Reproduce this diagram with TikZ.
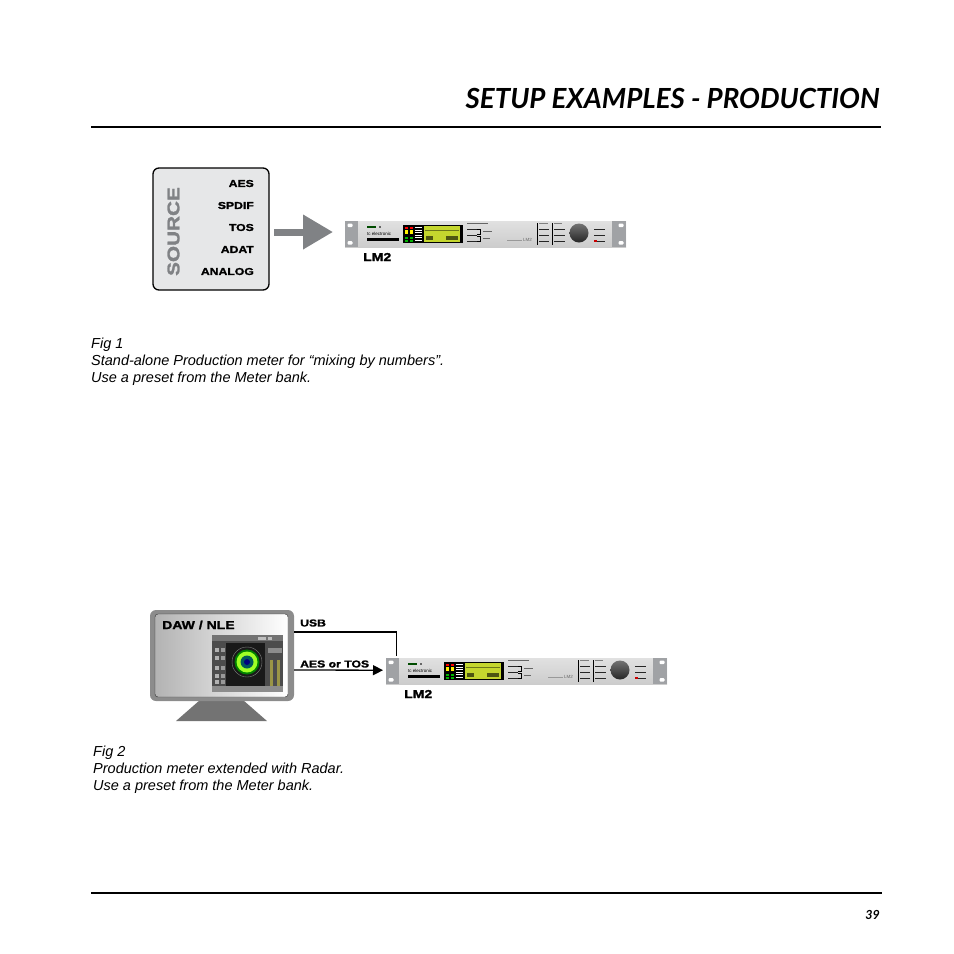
\documentclass[tikz,border=0pt]{standalone}
\usepackage{fontspec}
\usetikzlibrary{arrows.meta, positioning}
\setmainfont{Liberation Sans}
\newfontfamily\headfont{Lato}
\newfontfamily\widefont[BoldFeatures={FakeStretch=1.22,FakeBold=1.5}]{Liberation Sans}
\definecolor{panelgray}{HTML}{E6E7E8}
\definecolor{midgray}{HTML}{808285}
\definecolor{eargray}{HTML}{A0A2A5}
\definecolor{lcdlime}{HTML}{C4D62E}
\def\rackwidth{281pt}
\def\rackheight{26pt}

\begin{document}
\begin{tikzpicture}[x=1pt,y=-1pt]
    \tikzstyle{rulerline}=[draw=black, line width=1.8pt]
    \tikzstyle{pagetitle}=[font=\headfont\bfseries\itshape\fontsize{27.7}{28}\selectfont, anchor=base east, inner sep=0pt]
    \tikzstyle{figcaption}=[font=\itshape\fontsize{14.5}{17.2}\selectfont, anchor=west, inner sep=0pt, align=left]
    \tikzstyle{smalltag}=[font=\widefont\bfseries\fontsize{10}{11}\selectfont, inner sep=0pt]
    \tikzstyle{bigtag}=[font=\widefont\bfseries\fontsize{11.5}{12}\selectfont, inner sep=0pt]
    \tikzstyle{rackbody}=[minimum width=\rackwidth, minimum height=\rackheight, inner sep=0pt, top color=black!12, bottom color=black!20, anchor=north west]
    \tikzstyle{rackear}=[fill=eargray]
    \tikzstyle{keydash}=[black!85, line width=1pt]
    \tikzstyle{wire}=[draw=black, line width=1.3pt]
    \useasboundingbox (0,0) rectangle (954,954);

    \node[pagetitle] (heading) at (880,108) {SETUP EXAMPLES - PRODUCTION};
    \coordinate (topleft) at (91,127);
    \coordinate (topright) at (881,127);
    \draw[rulerline] (topleft) -- (topright);
    \coordinate (botleft) at (91,893);
    \coordinate (botright) at (882,893);
    \draw[rulerline] (botleft) -- (botright);
    \node[font=\headfont\bfseries\itshape\fontsize{12.5}{13}\selectfont, anchor=east, inner sep=0pt] (pagenum) at (880,915) {39};

%   source box
    \node[draw=black, line width=1.3pt, fill=panelgray, rounded corners=6pt, minimum width=116pt, minimum height=122pt, inner sep=0pt] (source) at (211,229) {};
    \node[font=\widefont\bfseries\fontsize{17}{17}\selectfont, text=midgray, rotate=90, inner sep=0pt] (sourcename) at (173.5,231.5) {SOURCE};
    \foreach \y/\t in {183.5/AES,205.5/SPDIF,227.5/TOS,249.5/ADAT,271.5/ANALOG}{
        \node[smalltag, anchor=east] (in-\t) at (254,\y) {\t};
    }

%   the two LM2 units
    \foreach \dx/\dy/\unit in {0/0/lmone,41/437/lmtwo}{
    \begin{scope}[shift={(\dx,\dy)}]
        \node[rackbody] (\unit) at (345,221) {};
        \fill[rackear] (345,221) rectangle (358,247);
        \fill[rackear] (612,221) rectangle (626,247);
        \foreach \ex in {350,621}{
            \fill[white, rounded corners=1pt] (\ex-2.5,223.5) rectangle (\ex+2.5,227);
            \fill[white, rounded corners=1pt] (\ex-2.5,241) rectangle (\ex+2.5,244.5);
        }
        % logo
        \fill[black!70!green] (367,225.5) rectangle (376,227.5);
        \fill[black!60] (379,226) rectangle (381,227.5);
        \node[font=\fontsize{4.5}{5}\selectfont, anchor=west, inner sep=0pt] at (367,234) {tc electronic};
        \fill[black] (367,237.5) rectangle (399,240.5);
        % display
        \fill[black] (403,225) rectangle (463,243);
        \fill[lcdlime] (424,226) rectangle (460,242);
        \foreach \my/\mc in {227/red,229.5/yellow,232/yellow,234.5/black,237/green!70!black,239.5/green!70!black}{
            \fill[\mc] (405,\my) rectangle (408,\my+2);
            \fill[\mc] (409.5,\my) rectangle (412.5,\my+2);
            \fill[white] (414.5,\my) rectangle (422,\my+1);
        }
        \fill[black!45!lcdlime] (425,230) rectangle (459,231.2);
        \fill[black!60!lcdlime] (426,236) rectangle (433,240);
        \fill[black!60!lcdlime] (446,236) rectangle (458,240);
        % key groups
        \draw[black!60, line width=0.6pt] (467,223) -- (488,223);
        \foreach \ky in {229,235,241}{
            \draw[keydash] (467,\ky) -- (477,\ky);
            \draw[keydash] (539,\ky) -- (549,\ky);
            \draw[keydash] (554,\ky) -- (565,\ky);
            \draw[keydash] (594,\ky) -- (605,\ky);
        }
        \draw[black, line width=0.5pt] (477,229) -- (480,229) -- (480,234.5) -- (477,234.5);
        \draw[black, line width=0.5pt] (477,236) -- (480,236) -- (480,241) -- (477,241);
        \draw[black!60, line width=0.6pt] (483,231) -- (492,231);
        \draw[black!60, line width=0.6pt] (483,238) -- (490,238);
        \draw[black!50, line width=0.6pt] (539,223) -- (548,223);
        \draw[black!50, line width=0.6pt] (554,223) -- (562,223);
        \draw[black, line width=0.7pt] (537,223) -- (537,245);
        \draw[black, line width=0.7pt] (552,223) -- (552,245);
        \fill[red!80!black] (594,240) rectangle (597,242);
        \draw[black!40, line width=0.6pt] (507,240.5) -- (522,240.5);
        \node[font=\fontsize{4.5}{5}\selectfont, text=black!60, anchor=west, inner sep=0pt] at (523,240) {LM2};
        % knob
        \shade[top color=black!55, bottom color=black!85] (579,233) circle (9.5);
    \end{scope}
    }
    \node[bigtag, anchor=west] (lmonetag) at (363,257) {LM2};
    \node[bigtag, anchor=west] (lmtwotag) at (404,694) {LM2};

    \draw[midgray, line width=7pt, -{Triangle[length=30pt,width=33pt]}, shorten <=4.5pt, shorten >=12pt] ([yshift=-3pt]source.east) -- (lmone.west |- 0,232);

    \node[figcaption] (figone) at (91,361.5) {Fig 1\\Stand-alone Production meter for “mixing by numbers”.\\Use a preset from the Meter bank.};

%   monitor
    \fill[black!55] (200,700) -- (243,700) -- (267,721) -- (176,721) -- cycle;
    \node[fill=black!45, rounded corners=6pt, minimum width=144pt, minimum height=91pt, inner sep=0pt] (monitor) at (222,655.5) {};
    \node[draw=black!80, line width=0.4pt, left color=black!30, right color=white, rounded corners=3pt, minimum width=133pt, minimum height=83pt, inner sep=0pt] (screen) at (221.5,655.5) {};
    \node[bigtag, anchor=west] (dawtag) at (162,625) {DAW / NLE};

%   radar window
    \fill[black!70] (212,635) rectangle (283,692);
    \fill[black!90] (226,643) rectangle (265,686);
    \fill[black!55] (212,635) rectangle (283,641);
    \fill[black!45] (212,686) rectangle (283,692);
    \foreach \py in {648,656,666,674,680}{
        \fill[black!30] (214.5,\py) rectangle (219,\py+4);
        \fill[black!40] (221,\py) rectangle (224.5,\py+4);
    }
    \fill[black!25] (258,637) rectangle (266,640);
    \fill[black!25] (268,637) rectangle (272,640);
    \draw[black!50, line width=0.4pt] (247,662) circle (15);
    \fill[green!50!black] (247,662) circle (12.5);
    \fill[green!45!yellow!85!white] (247,662) circle (10.5);
    \fill[teal!70!black] (247,662) circle (6.5);
    \fill[blue!50!black] (247,662) circle (3);
    \fill[yellow!55!black] (270,660) rectangle (272.5,686);
    \fill[yellow!55!black] (277,660) rectangle (279.5,686);
    \fill[black!45] (268,648) rectangle (282,653);

%   connectors
    \draw[wire] ([yshift=23.5pt]monitor.east) -| ([xshift=-130.5pt,yshift=2pt]lmtwo.north);
    \draw[wire, -{Triangle[length=10pt,width=10pt]}, shorten >=3pt] ([yshift=-14.5pt]monitor.east) -- ([yshift=1pt]lmtwo.west);
    \node[smalltag, anchor=west] (usbtag) at (300,623) {USB};
    \node[smalltag, anchor=west] (aestag) at (300,664) {AES or TOS};

    \node[figcaption] (figtwo) at (93,770) {Fig 2\\Production meter extended with Radar.\\Use a preset from the Meter bank.};
\end{tikzpicture}
\end{document}
